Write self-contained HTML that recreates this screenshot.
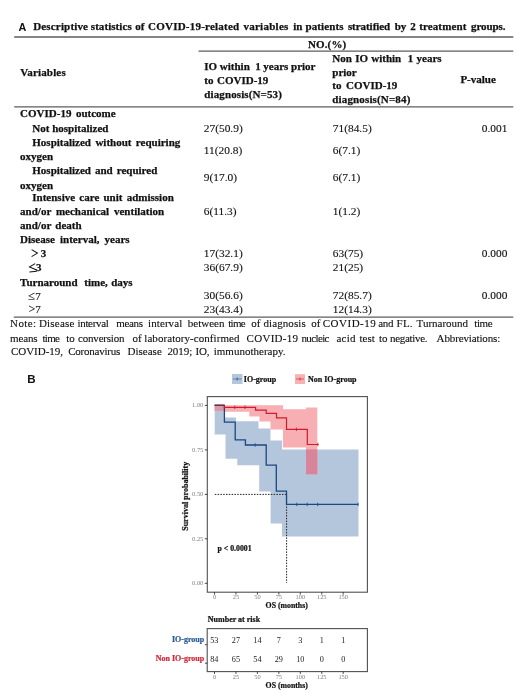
<!DOCTYPE html>
<html><head><meta charset="utf-8">
<style>
html,body{margin:0;padding:0;background:#fff;}
body{width:520px;height:693px;overflow:hidden;}
svg{display:block;filter:blur(0.3px);}
.s{font-family:"Liberation Serif",serif;}
.b{font-family:"Liberation Serif",serif;font-weight:bold;font-size:11px;fill:#111;white-space:pre;stroke:#111;stroke-width:0.25px;}
.r{font-family:"Liberation Serif",serif;font-size:11px;fill:#111;white-space:pre;stroke:#111;stroke-width:0.12px;}
.ss{font-family:"Liberation Sans",sans-serif;font-weight:bold;}
.hv{stroke:#111;stroke-width:0.22px;}
</style></head><body>
<svg width="520" height="693" viewBox="0 0 520 693">
<!-- ===== PART A: table ===== -->
<text class="ss" x="18.5" y="30.8" font-size="10.8" fill="#111">A</text>
<text class="b" y="30.3"><tspan x="33.2" textLength="54.8" lengthAdjust="spacing">Descriptive</tspan><tspan x="90.8" textLength="40.9" lengthAdjust="spacing">statistics</tspan><tspan x="135.2">of</tspan><tspan x="148.0" textLength="91.2" lengthAdjust="spacing">COVID-19-related</tspan><tspan x="243.4" textLength="45.0" lengthAdjust="spacing">variables</tspan><tspan x="293.2">in</tspan><tspan x="305.5" textLength="38.0" lengthAdjust="spacing">patients</tspan><tspan x="347.9" textLength="42.3" lengthAdjust="spacing">stratified</tspan><tspan x="394.7">by</tspan><tspan x="410.2">2</tspan><tspan x="419.2" textLength="47.1" lengthAdjust="spacing">treatment</tspan><tspan x="471.0" textLength="34.5" lengthAdjust="spacing">groups.</tspan></text>
<line x1="14.2" y1="37.1" x2="513.3" y2="37.1" stroke="#5c5c5c" stroke-width="1.5"/>
<text class="b" x="307.9" y="47.7" textLength="38.3" lengthAdjust="spacing">NO.(%)</text>
<line x1="198.5" y1="51.2" x2="513.3" y2="51.2" stroke="#5c5c5c" stroke-width="1.3"/>
<text class="b" x="20.2" y="75.8" textLength="45.5" lengthAdjust="spacing">Variables</text>
<text class="b" x="204.3" y="69.5" style="word-spacing:-0.07px">IO within  1 years prior</text>
<text class="b" x="204.3" y="83.7" style="word-spacing:0.75px">to COVID-19</text>
<text class="b" x="204.3" y="97.5" textLength="77.5" lengthAdjust="spacing">diagnosis(N=53)</text>
<text class="b" x="332.3" y="61.9" style="word-spacing:0.53px">Non IO within  1 years</text>
<text class="b" x="332.3" y="75.6">prior</text>
<text class="b" x="332.3" y="89.3" style="word-spacing:1.75px">to COVID-19</text>
<text class="b" x="332.3" y="103.3" textLength="78" lengthAdjust="spacing">diagnosis(N=84)</text>
<text class="b" x="460.4" y="82.7">P-value</text>
<line x1="14.2" y1="106.8" x2="513.3" y2="106.8" stroke="#5c5c5c" stroke-width="1.3"/>

<text class="b" x="20.1" y="117.3" style="word-spacing:1.70px">COVID-19 outcome</text>
<text class="b" x="32.3" y="131.6">Not hospitalized</text>
<text class="r" x="203.8" y="131.8" style="font-size:11.4px">27(50.9)</text>
<text class="r" x="332.8" y="131.8" style="font-size:11.4px">71(84.5)</text>
<text class="r" x="481.8" y="131.6" style="font-size:11.4px">0.001</text>

<text class="b" x="32.3" y="145.8" style="word-spacing:1.67px">Hospitalized without requiring</text>
<text class="b" x="20.1" y="160.1">oxygen</text>
<text class="r" x="203.8" y="153.5" style="font-size:11.4px">11(20.8)</text>
<text class="r" x="332.8" y="153.5" style="font-size:11.4px">6(7.1)</text>

<text class="b" x="32.3" y="173.8" style="word-spacing:1.27px">Hospitalized and required</text>
<text class="b" x="20.1" y="188.5">oxygen</text>
<text class="r" x="203.8" y="180.5" style="font-size:11.4px">9(17.0)</text>
<text class="r" x="332.8" y="180.5" style="font-size:11.4px">6(7.1)</text>

<text class="b" x="32.3" y="201.2" style="word-spacing:1.49px">Intensive care unit admission</text>
<text class="b" x="20.1" y="215.4" style="word-spacing:2.12px">and/or mechanical ventilation</text>
<text class="b" x="20.1" y="229" style="word-spacing:1.48px">and/or death</text>
<text class="r" x="203.8" y="215" style="font-size:11.4px">6(11.3)</text>
<text class="r" x="332.8" y="215" style="font-size:11.4px">1(1.2)</text>

<text class="b" x="20.1" y="243.2" style="word-spacing:2.36px">Disease interval, years</text>
<path d="M31.6,249.6 L37.4,253.1 L31.6,256.6" fill="none" stroke="#111" stroke-width="1.05"/><text class="b" x="40.8" y="256.8">3</text>
<text class="r" x="203.8" y="256.5" style="font-size:11.4px">17(32.1)</text>
<text class="r" x="332.8" y="256.5" style="font-size:11.4px">63(75)</text>
<text class="r" x="481.8" y="256.5" style="font-size:11.4px">0.000</text>
<path d="M35.2,263.6 L29.6,266.9 L36.6,269.9 M29.4,272 L36.8,271.2" fill="none" stroke="#111" stroke-width="1.1"/><text class="b" x="36" y="271">3</text>
<text class="r" x="203.8" y="271.3" style="font-size:11.4px">36(67.9)</text>
<text class="r" x="332.8" y="271.3" style="font-size:11.4px">21(25)</text>

<text class="b" x="20.1" y="285.5" style="word-spacing:0.61px">Turnaround  time, days</text>
<text class="r" x="28.3" y="300" style="font-size:12.5px">≤<tspan dy="-0.4" font-size="11">7</tspan></text>
<text class="r" x="203.8" y="299.3" style="font-size:11.4px">30(56.6)</text>
<text class="r" x="332.8" y="299.3" style="font-size:11.4px">72(85.7)</text>
<text class="r" x="481.8" y="299.3" style="font-size:11.4px">0.000</text>
<text class="r" x="28.5" y="313.3" style="font-size:12px">&gt;<tspan font-size="11">7</tspan></text>
<text class="r" x="203.8" y="313.3" style="font-size:11.4px">23(43.4)</text>
<text class="r" x="332.8" y="313.3" style="font-size:11.4px">12(14.3)</text>
<line x1="13.8" y1="317.1" x2="513.3" y2="317.1" stroke="#5c5c5c" stroke-width="1.3"/>

<text class="r" y="327.4"><tspan x="10.1" textLength="26.0" lengthAdjust="spacing">Note:</tspan><tspan x="38.9" textLength="35.6" lengthAdjust="spacing">Disease</tspan><tspan x="77.5" textLength="31.3" lengthAdjust="spacing">interval</tspan><tspan x="116.2" textLength="26.8" lengthAdjust="spacing">means</tspan><tspan x="148.1" textLength="34.1" lengthAdjust="spacing">interval</tspan><tspan x="187.8" textLength="36.7" lengthAdjust="spacing">between</tspan><tspan x="228.2" textLength="17.5" lengthAdjust="spacing">time</tspan><tspan x="251.2">of</tspan><tspan x="263.5" textLength="42.2" lengthAdjust="spacing">diagnosis</tspan><tspan x="311.3">of</tspan><tspan x="322.8" textLength="52.9" lengthAdjust="spacing">COVID-19</tspan><tspan x="378.2" textLength="15.2" lengthAdjust="spacing">and</tspan><tspan x="396.6" textLength="16.0" lengthAdjust="spacing">FL.</tspan><tspan x="416.6" textLength="51.4" lengthAdjust="spacing">Turnaround</tspan><tspan x="474.3" textLength="18.3" lengthAdjust="spacing">time</tspan></text>
<text class="r" y="341.7"><tspan x="10.1" textLength="27.5" lengthAdjust="spacing">means</tspan><tspan x="42.4" textLength="17.5" lengthAdjust="spacing">time</tspan><tspan x="66.2">to</tspan><tspan x="78.1" textLength="46.4" lengthAdjust="spacing">conversion</tspan><tspan x="132.4">of</tspan><tspan x="144.3" textLength="95.2" lengthAdjust="spacing">laboratory-confirmed</tspan><tspan x="246.6" textLength="51.4" lengthAdjust="spacing">COVID-19</tspan><tspan x="301.5" textLength="28.0" lengthAdjust="spacing">nucleic</tspan><tspan x="336.5" textLength="18.9" lengthAdjust="spacing">acid</tspan><tspan x="359.4" textLength="15.5" lengthAdjust="spacing">test</tspan><tspan x="379.0">to</tspan><tspan x="390.1" textLength="37.5" lengthAdjust="spacing">negative.</tspan><tspan x="436.6" textLength="63.7" lengthAdjust="spacing">Abbreviations:</tspan></text>
<text class="r" y="355.3"><tspan x="10.9" textLength="52.1" lengthAdjust="spacing">COVID-19,</tspan><tspan x="68.2" textLength="52.1" lengthAdjust="spacing">Coronavirus</tspan><tspan x="127.4" textLength="34.4" lengthAdjust="spacing">Disease</tspan><tspan x="167.4" textLength="24.9" lengthAdjust="spacing">2019;</tspan><tspan x="195.5" textLength="14.0" lengthAdjust="spacing">IO,</tspan><tspan x="213.7" textLength="71.8" lengthAdjust="spacing">immunotherapy.</tspan></text>

<!-- ===== PART B: KM plot ===== -->
<text class="ss" x="27.3" y="383.1" font-size="11.6" fill="#111">B</text>

<!-- legend -->
<rect x="232" y="374" width="10.5" height="10" fill="#b4c6dc"/>
<line x1="233" y1="379" x2="241.5" y2="379" stroke="#1d4f8f" stroke-width="0.8" stroke-opacity="0.75"/>
<line x1="237.2" y1="377.5" x2="237.2" y2="380.5" stroke="#1d4f8f" stroke-width="0.8"/>
<text class="s hv" x="243.8" y="381.5" font-size="8" font-weight="bold" fill="#111">IO-group</text>
<rect x="295" y="374.2" width="10" height="9.8" fill="#f8b2b2"/>
<line x1="296" y1="379" x2="304" y2="379" stroke="#d01c2b" stroke-width="0.8" stroke-opacity="0.75"/>
<line x1="300" y1="377.5" x2="300" y2="380.5" stroke="#d01c2b" stroke-width="0.8"/>
<text class="s hv" x="308" y="381.5" font-size="8" font-weight="bold" fill="#111">Non IO-group</text>

<!-- blue band -->
<path d="M214.7,405.3 H224.4 V417.5 H236 V421.3 H258.5 V428.5 H270.5 V440.4 H282 V449.4 H358.5 V536.6 H282 V523.5 H270.6 V491.5 H259.2 V465.2 H237.3 V458.8 H225.5 V434.4 H214.7 Z" fill="#b4c6dc"/>
<!-- red band -->
<path d="M214.7,405.3 H283.1 V409.3 H306 V407.4 H317.3 V474.3 H306 V447.6 H283 V429.5 H270.5 V421.5 H259.5 V416.5 H249.3 V411.8 H224.4 V410.8 H214.7 Z" fill="#f7afb4"/>
<!-- overlaps -->
<rect x="306" y="449.4" width="11.3" height="24.9" fill="#d8849b"/>
<rect x="214.7" y="405.3" width="9.7" height="5.5" fill="#dc96a6"/>
<!-- dashed median lines -->
<path d="M214.8,494.4 H286.6 V583" fill="none" stroke="#222" stroke-width="1" stroke-dasharray="1.5,1.3"/>

<!-- blue curve -->
<path d="M214.7,405.3 H224.4 V422.2 H235.2 V439.8 H245.4 V445 H266.2 V465.2 H276.3 V491.2 H286.5 V504.4 H358.2" fill="none" stroke="#1b4782" stroke-width="1.3"/>
<path d="M255.2,443.3 v3.4 M296.8,502.7 v3.4 M307.2,502.7 v3.4 M317.7,502.7 v3.4 M358,502.7 v3.4" stroke="#1d4f8f" stroke-width="0.9"/>
<!-- red curve -->
<path d="M214.7,405.3 H224.4 V407.3 H255.6 V410.2 H266.2 V413.3 H276.5 V417.9 H286.5 V429.3 H307.3 V444.5 H318.6" fill="none" stroke="#d01c2b" stroke-width="1.2"/>
<path d="M234.8,405.6 v3.4 M245,405.6 v3.4 M296.4,427.6 v3.4 M317.8,442.8 v3.4" stroke="#d01c2b" stroke-width="0.9"/>

<path d="M214.7,405.3 H224.4" stroke="#6a3346" stroke-width="1.3"/>
<!-- panel -->
<rect x="207.3" y="396.6" width="160.1" height="195.6" fill="none" stroke="#505050" stroke-width="1.1"/>
<!-- y ticks -->
<g stroke="#333" stroke-width="0.9">
<line x1="204.8" y1="405.4" x2="207.3" y2="405.4"/>
<line x1="204.8" y1="449.9" x2="207.3" y2="449.9"/>
<line x1="204.8" y1="494.4" x2="207.3" y2="494.4"/>
<line x1="204.8" y1="538.8" x2="207.3" y2="538.8"/>
<line x1="204.8" y1="583.3" x2="207.3" y2="583.3"/>
</g>
<g class="s" font-size="6.4" fill="#7c7c7c" text-anchor="end">
<text x="203.3" y="407.2">1.00</text>
<text x="203.3" y="451.7">0.75</text>
<text x="203.3" y="496.2">0.50</text>
<text x="203.3" y="540.6">0.25</text>
<text x="203.3" y="585.1">0.00</text>
</g>
<!-- x ticks -->
<g stroke="#333" stroke-width="0.9">
<line x1="214.5" y1="592.2" x2="214.5" y2="594.6"/>
<line x1="235.95" y1="592.2" x2="235.95" y2="594.6"/>
<line x1="257.4" y1="592.2" x2="257.4" y2="594.6"/>
<line x1="278.85" y1="592.2" x2="278.85" y2="594.6"/>
<line x1="300.3" y1="592.2" x2="300.3" y2="594.6"/>
<line x1="321.75" y1="592.2" x2="321.75" y2="594.6"/>
<line x1="343.2" y1="592.2" x2="343.2" y2="594.6"/>
</g>
<g class="s" font-size="6.4" fill="#7c7c7c" text-anchor="middle">
<text x="214.5" y="598.8">0</text>
<text x="235.95" y="598.8">25</text>
<text x="257.4" y="598.8">50</text>
<text x="278.85" y="598.8">75</text>
<text x="300.3" y="598.8">100</text>
<text x="321.75" y="598.8">125</text>
<text x="343.2" y="598.8">150</text>
</g>
<text class="s hv" x="286.7" y="608.4" font-size="7.8" font-weight="bold" fill="#111" text-anchor="middle">OS (months)</text>
<text class="s hv" transform="translate(188.3,496.3) rotate(-90)" font-size="8" font-weight="bold" fill="#111" text-anchor="middle">Survival probability</text>
<text class="s hv" x="217.5" y="551" font-size="7.8" font-weight="bold" fill="#111">p &lt; 0.0001</text>

<!-- risk table -->
<text class="s hv" x="207.8" y="622.1" font-size="8" font-weight="bold" fill="#111">Number at risk</text>
<rect x="207.2" y="628.6" width="160.2" height="43" fill="none" stroke="#505050" stroke-width="1.1"/>
<g stroke="#333" stroke-width="0.9">
<line x1="205" y1="644.7" x2="207.2" y2="644.7"/>
<line x1="205" y1="663.2" x2="207.2" y2="663.2"/>
<line x1="214.5" y1="671.6" x2="214.5" y2="673.9"/>
<line x1="235.95" y1="671.6" x2="235.95" y2="673.9"/>
<line x1="257.4" y1="671.6" x2="257.4" y2="673.9"/>
<line x1="278.85" y1="671.6" x2="278.85" y2="673.9"/>
<line x1="300.3" y1="671.6" x2="300.3" y2="673.9"/>
<line x1="321.75" y1="671.6" x2="321.75" y2="673.9"/>
<line x1="343.2" y1="671.6" x2="343.2" y2="673.9"/>
</g>
<text class="s hv" x="204.2" y="642.3" font-size="8" font-weight="bold" fill="#2a5b98" style="stroke:#2a5b98" text-anchor="end">IO-group</text>
<text class="s hv" x="204.2" y="661.2" font-size="8" font-weight="bold" fill="#d4283a" style="stroke:#d4283a" text-anchor="end">Non IO-group</text>
<g class="s" font-size="8.2" fill="#222" text-anchor="middle">
<text x="214.3" y="642.7">53</text><text x="235.95" y="642.7">27</text><text x="257.4" y="642.7">14</text><text x="278.85" y="642.7">7</text><text x="300.3" y="642.7">3</text><text x="321.75" y="642.7">1</text><text x="343.2" y="642.7">1</text>
<text x="214.3" y="661.5">84</text><text x="235.95" y="661.5">65</text><text x="257.4" y="661.5">54</text><text x="278.85" y="661.5">29</text><text x="300.3" y="661.5">10</text><text x="321.75" y="661.5">0</text><text x="343.2" y="661.5">0</text>
</g>
<g class="s" font-size="6.4" fill="#7c7c7c" text-anchor="middle">
<text x="214.5" y="678.9">0</text>
<text x="235.95" y="678.9">25</text>
<text x="257.4" y="678.9">50</text>
<text x="278.85" y="678.9">75</text>
<text x="300.3" y="678.9">100</text>
<text x="321.75" y="678.9">125</text>
<text x="343.2" y="678.9">150</text>
</g>
<text class="s hv" x="286.7" y="687.6" font-size="7.8" font-weight="bold" fill="#111" text-anchor="middle">OS (months)</text>
</svg>
</body></html>
